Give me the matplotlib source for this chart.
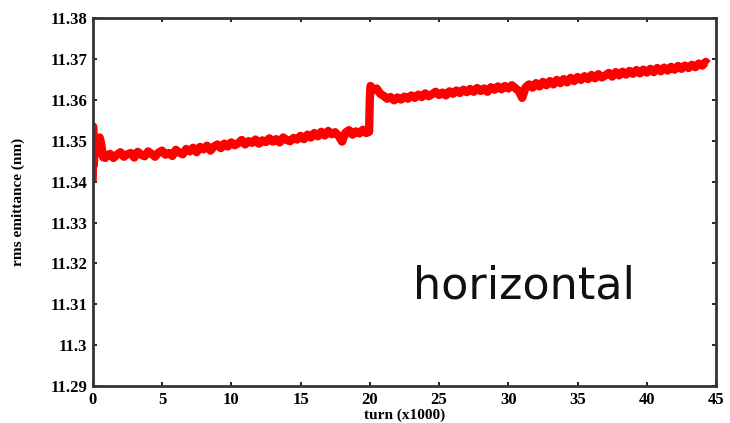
import matplotlib
matplotlib.use("Agg")
import matplotlib.pyplot as plt

# turn (x1000)
turn = [
    0.00, 0.03, 0.08, 0.15, 0.25, 0.40, 0.50, 0.60, 0.75, 0.90,
    1.00, 1.25, 1.50, 1.75, 2.00, 2.25, 2.50, 2.75, 3.00, 3.25,
    3.50, 3.75, 4.00, 4.25, 4.50, 4.75, 5.00, 5.25, 5.50, 5.75,
    6.00, 6.25, 6.50, 6.75, 7.00, 7.25, 7.50, 7.75, 8.00, 8.25,
    8.50, 8.75, 9.00, 9.25, 9.50, 9.75, 10.00, 10.25, 10.50, 10.75,
    11.00, 11.25, 11.50, 11.75, 12.00, 12.25, 12.50, 12.75, 13.00, 13.25,
    13.50, 13.75, 14.00, 14.25, 14.50, 14.75, 15.00, 15.25, 15.50, 15.75,
    16.00, 16.25, 16.50, 16.75, 17.00, 17.25, 17.50, 17.75, 18.00, 18.25,
    18.50, 18.75, 19.00, 19.25, 19.50, 19.75, 19.95, 20.00, 20.05, 20.25,
    20.50, 20.75, 21.00, 21.25, 21.50, 21.75, 22.00, 22.25, 22.50, 22.75,
    23.00, 23.25, 23.50, 23.75, 24.00, 24.25, 24.50, 24.75, 25.00, 25.25,
    25.50, 25.75, 26.00, 26.25, 26.50, 26.75, 27.00, 27.25, 27.50, 27.75,
    28.00, 28.25, 28.50, 28.75, 29.00, 29.25, 29.50, 29.75, 30.00, 30.25,
    30.50, 30.75, 31.00, 31.25, 31.50, 31.75, 32.00, 32.25, 32.50, 32.75,
    33.00, 33.25, 33.50, 33.75, 34.00, 34.25, 34.50, 34.75, 35.00, 35.25,
    35.50, 35.75, 36.00, 36.25, 36.50, 36.75, 37.00, 37.25, 37.50, 37.75,
    38.00, 38.25, 38.50, 38.75, 39.00, 39.25, 39.50, 39.75, 40.00, 40.25,
    40.50, 40.75, 41.00, 41.25, 41.50, 41.75, 42.00, 42.25, 42.50, 42.75,
    43.00, 43.25, 43.50, 43.75, 44.00, 44.25, 44.40,
]
# rms emittance (nm) at those turns
emittance = [
    11.3400, 11.3535, 11.3440, 11.3500, 11.3470, 11.3480, 11.3508, 11.3495, 11.3460, 11.3458,
    11.3462, 11.3468, 11.3458, 11.3466, 11.3472, 11.3461, 11.3467, 11.3470, 11.3459, 11.3473,
    11.3466, 11.3462, 11.3474, 11.3468, 11.3461, 11.3471, 11.3476, 11.3466, 11.3470, 11.3463,
    11.3478, 11.3471, 11.3467, 11.3480, 11.3474, 11.3483, 11.3472, 11.3485, 11.3479, 11.3488,
    11.3476, 11.3486, 11.3491, 11.3482, 11.3493, 11.3486, 11.3496, 11.3489, 11.3494, 11.3502,
    11.3491, 11.3499, 11.3495, 11.3503, 11.3493, 11.3501, 11.3497, 11.3506, 11.3498, 11.3504,
    11.3496, 11.3508, 11.3502, 11.3499, 11.3507, 11.3503, 11.3512, 11.3504, 11.3515, 11.3508,
    11.3519, 11.3511, 11.3522, 11.3513, 11.3524, 11.3516, 11.3521, 11.3512, 11.3498, 11.3520,
    11.3526, 11.3515, 11.3523, 11.3518, 11.3527, 11.3519, 11.3522, 11.3600, 11.3634, 11.3624,
    11.3628, 11.3615, 11.3610, 11.3603, 11.3607, 11.3599, 11.3606, 11.3601, 11.3608, 11.3603,
    11.3611, 11.3605, 11.3613, 11.3607, 11.3616, 11.3609, 11.3614, 11.3620, 11.3612, 11.3618,
    11.3611, 11.3621, 11.3615, 11.3623, 11.3617, 11.3625, 11.3619, 11.3627, 11.3620, 11.3629,
    11.3622, 11.3628, 11.3620, 11.3631, 11.3625, 11.3633, 11.3626, 11.3634, 11.3628, 11.3636,
    11.3629, 11.3622, 11.3605, 11.3631, 11.3638, 11.3630, 11.3641, 11.3633, 11.3644, 11.3636,
    11.3646, 11.3638, 11.3649, 11.3641, 11.3651, 11.3643, 11.3654, 11.3646, 11.3656, 11.3649,
    11.3658, 11.3651, 11.3661, 11.3653, 11.3663, 11.3655, 11.3660, 11.3666, 11.3657, 11.3668,
    11.3660, 11.3669, 11.3662, 11.3671, 11.3664, 11.3673, 11.3665, 11.3674, 11.3667, 11.3676,
    11.3668, 11.3678, 11.3670, 11.3679, 11.3672, 11.3681, 11.3674, 11.3683, 11.3676, 11.3684,
    11.3678, 11.3686, 11.3680, 11.3689, 11.3684, 11.3693, 11.3688,
]

xticks = [0, 5, 10, 15, 20, 25, 30, 35, 40, 45]
yticks = [11.29, 11.30, 11.31, 11.32, 11.33, 11.34, 11.35, 11.36, 11.37, 11.38]
ytick_labels = ["11.29", "11.3", "11.31", "11.32", "11.33", "11.34",
                "11.35", "11.36", "11.37", "11.38"]

serif = {"family": "Liberation Serif", "weight": "bold"}

fig = plt.figure(figsize=(7.3, 4.23), dpi=100)
ax = fig.add_axes([0.127, 0.0875, 0.854, 0.8695])

ax.plot(turn, emittance, color="red", lw=6, solid_joinstyle="round",
        solid_capstyle="butt")

ax.set_xlim(0, 45)
ax.set_ylim(11.29, 11.38)
ax.set_xticks(xticks)
ax.set_xticklabels([str(t) for t in xticks], fontdict=serif, fontsize=12)
ax.set_yticks(yticks)
ax.set_yticklabels(ytick_labels, fontdict=serif, fontsize=12)
ax.tick_params(direction="in", length=3, width=1.2, top=True, right=True, pad=4)
for s in ax.spines.values():
    s.set_linewidth(2)
    s.set_color("#333333")

ax.set_xlabel("turn (x1000)", fontdict=serif, fontsize=11, labelpad=1)
ax.set_ylabel("rms emittance (nm)", fontdict=serif, fontsize=11, labelpad=18)

ax.text(0.514, 0.238, "horizontal", transform=ax.transAxes,
        family="DejaVu Sans", fontsize=32, color="#111111")

fig.savefig("out.png", dpi=100)
